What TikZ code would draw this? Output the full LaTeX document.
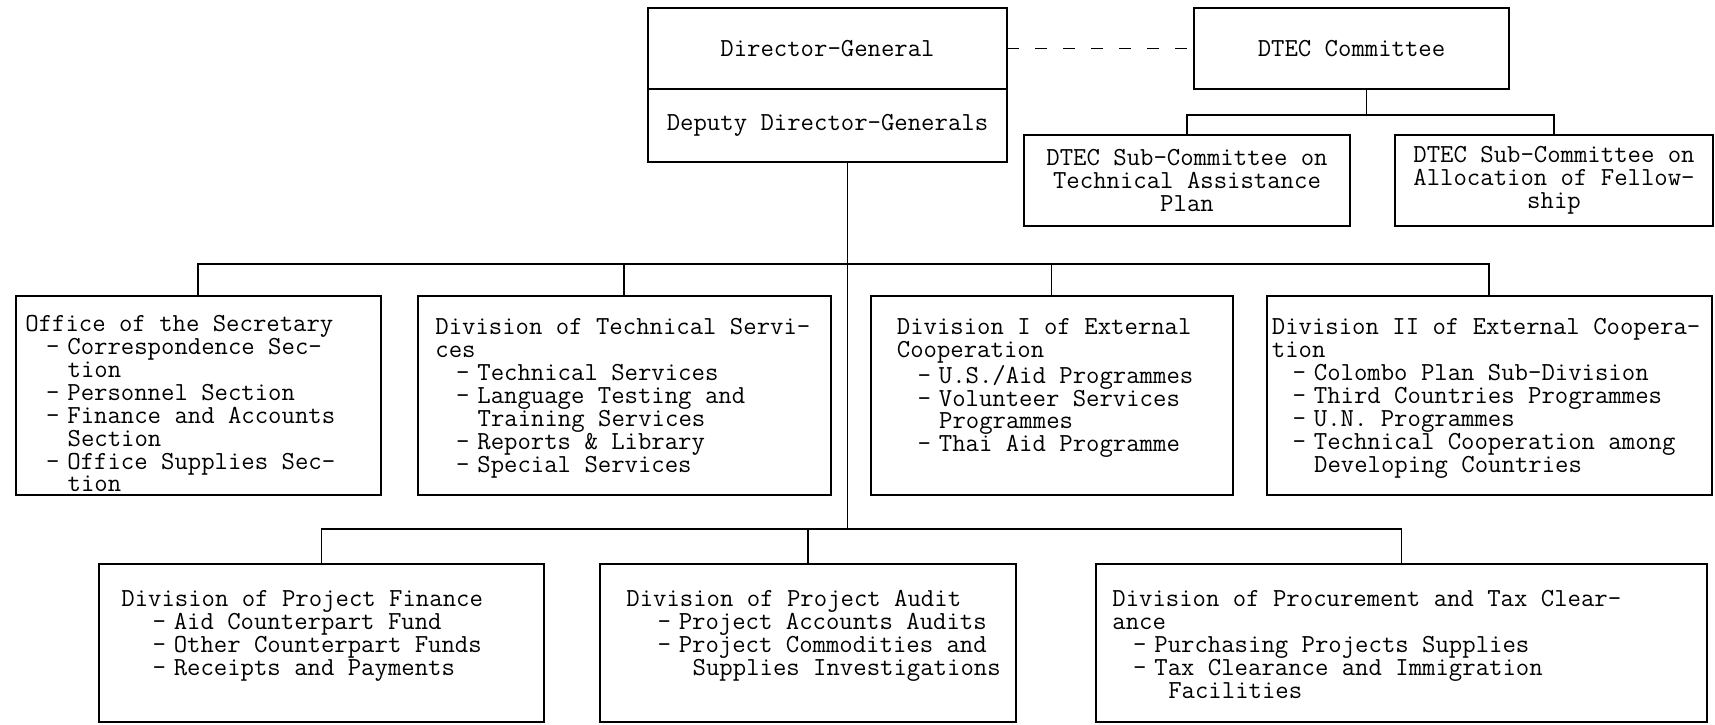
\documentclass[tikz,border=0pt]{standalone}
\usepackage{fontspec}
\usetikzlibrary{positioning}
\newcommand{\chartfont}{\ttfamily\fontsize{13}{11.45}\selectfont}
\newcommand{\secitem}{\hspace*{0.8em}-\hspace{0.3em}}
\newcommand{\secmore}{\hspace*{1.625em}}
\newcommand{\divitem}{\hspace*{1.2em}-\hspace{0.3em}}
\newcommand{\divmore}{\hspace*{2.55em}}

\begin{document}
\begin{tikzpicture}[
    x=0.5pt, y=-0.5pt,
    box/.style ={draw, line width=1pt, outer sep=0pt, inner sep=2pt, font=\chartfont},
    head/.style={box, align=center},
    unit/.style={box, minimum height=99.5pt},
    proj/.style={box, minimum height=79pt},
    txt/.style ={align=left, inner sep=0pt, font=\chartfont},
    link/.style={line width=0.8pt},
    dashlink/.style={link, dash pattern=on 6pt off 8pt},
]
\useasboundingbox (0,0) rectangle (1715,724);
% director-general and the DTEC committee
\node[head, minimum width=179.5pt, minimum height=40.5pt] (dg) at (827.5,48.5) {Director-General};
\node[head, minimum width=179.5pt, minimum height=36.5pt, below=0pt of dg] (ddg) {Deputy Director-Generals};
\node[head, minimum width=157.5pt, minimum height=40.5pt, right=93.5pt of dg] (dtec) {DTEC Committee};
\node[head, minimum width=163pt, minimum height=45.5pt] (subta) at (1187,180.5)
     {DTEC Sub-Committee on\\Technical Assistance\\Plan};
\node[head, minimum width=159pt, minimum height=45.5pt, right=22.5pt of subta] (subfel)
     {DTEC Sub-Committee on\\Allocation of Fellow-\\ship};
% first row of divisions
\node[unit, minimum width=182.5pt] (office) at (198,395.5) {};
\node[unit, minimum width=206.5pt, right=18.5pt of office] (techsv) {};
\node[unit, minimum width=181pt, right=20pt of techsv] (extone) {};
\node[unit, minimum width=222.5pt, right=17pt of extone] (exttwo) {};
\node[txt, below right=9.5pt and 4.75pt of office.north west] (officetxt)
     {Office of the Secretary\\
      \secitem Correspondence Sec-\\
      \secmore tion\\
      \secitem Personnel Section\\
      \secitem Finance and Accounts\\
      \secmore Section\\
      \secitem Office Supplies Sec-\\
      \secmore tion};
\node[txt, below right=11pt and 8.75pt of techsv.north west] (techsvtxt)
     {Division of Technical Servi-\\
      ces\\
      \secitem Technical Services\\
      \secitem Language Testing and\\
      \secmore Training Services\\
      \secitem Reports \& Library\\
      \secitem Special Services};
\node[txt, below right=11pt and 13pt of extone.north west] (extonetxt)
     {Division I of External\\
      Cooperation\\
      \secitem U.S./Aid Programmes\\
      \secitem Volunteer Services\\
      \secmore Programmes\\
      \secitem Thai Aid Programme};
\node[txt, below right=11pt and 2.5pt of exttwo.north west] (exttwotxt)
     {Division II of External Coopera-\\
      tion\\
      \secitem Colombo Plan Sub-Division\\
      \secitem Third Countries Programmes\\
      \secitem U.N. Programmes\\
      \secitem Technical Cooperation among\\
      \secmore Developing Countries};
% second row of divisions
\node[proj, minimum width=222.5pt] (finance) at (321.5,643) {};
\node[proj, minimum width=208pt, right=28pt of finance] (audit) {};
\node[proj, minimum width=305.5pt, right=40pt of audit] (procure) {};
\node[txt, below right=13pt and 11pt of finance.north west] (financetxt)
     {Division of Project Finance\\
      \divitem Aid Counterpart Fund\\
      \divitem Other Counterpart Funds\\
      \divitem Receipts and Payments};
\node[txt, below right=13pt and 13pt of audit.north west] (audittxt)
     {Division of Project Audit\\
      \divitem Project Accounts Audits\\
      \divitem Project Commodities and\\
      \divmore Supplies Investigations};
\node[txt, below right=13pt and 8pt of procure.north west] (procuretxt)
     {Division of Procurement and Tax Clear-\\
      ance\\
      \secitem Purchasing Projects Supplies\\
      \secitem Tax Clearance and Immigration\\
      \hspace*{2.15em}Facilities};
% committee side
\draw[dashlink] (dg.east) -- (dtec.west);
\draw[link] ([xshift=7.5pt]dtec.south) -- ++(0,26) coordinate (cbar);
\draw[link] (subta.north) |- (cbar) -| (subfel.north);
% main stem and the two bars
\draw[link] ([xshift=10pt]ddg.south) -- ++(0,367) coordinate (lowbar);
\path ([xshift=10pt]ddg.south) ++(0,102) coordinate (topbar);
\draw[link] (office.north) |- (topbar) -| (exttwo.north);
\draw[link] (techsv.north) -- (techsv.north |- topbar);
\draw[link] (extone.north) -- (extone.north |- topbar);
\draw[link] (finance.north) |- (lowbar) -| (procure.north);
\draw[link] (audit.north) -- (audit.north |- lowbar);
\end{tikzpicture}
\end{document}
